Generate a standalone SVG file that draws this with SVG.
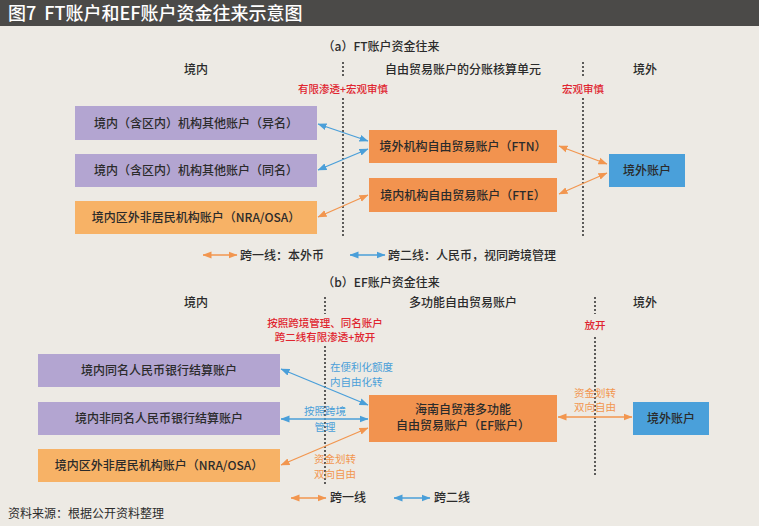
<svg xmlns="http://www.w3.org/2000/svg" width="759" height="526" viewBox="0 0 759 526">
<style>
text{font-family:"Noto Sans CJK SC","Liberation Sans",sans-serif;}
.t{font-size:12px;fill:#2b2b2b;text-anchor:middle;font-weight:500;}
.hd{font-size:12px;fill:#2b2b2b;text-anchor:middle;font-weight:500;}
.red{font-size:10.5px;fill:#e0252f;text-anchor:middle;font-weight:500;}
.bl{font-size:10.5px;fill:#4a9fd9;}
.or{font-size:10.5px;fill:#f2964f;text-anchor:middle;}
.leg{font-size:12px;fill:#2b2b2b;font-weight:500;}
.dash{stroke:#1e1e1e;stroke-width:1.4;stroke-dasharray:2 2;fill:none;}
.ab{stroke:#4a9fd9;stroke-width:1.3;fill:none;marker-start:url(#mb);marker-end:url(#mb);}
.ao{stroke:#f2964f;stroke-width:1.3;fill:none;marker-start:url(#mo);marker-end:url(#mo);}
.purple{fill:#b3a5d1;}
.lorange{fill:#f7b266;}
.orange{fill:#f2934f;}
.blue{fill:#4aa0da;}
</style>
<defs>
<marker id="mb" markerUnits="userSpaceOnUse" markerWidth="9" markerHeight="8" viewBox="0 0 9 8" refX="8.5" refY="4" orient="auto-start-reverse"><path d="M0,0.5 L9,4 L0,7.5 z" fill="#4a9fd9"/></marker>
<marker id="mo" markerUnits="userSpaceOnUse" markerWidth="9" markerHeight="8" viewBox="0 0 9 8" refX="8.5" refY="4" orient="auto-start-reverse"><path d="M0,0.5 L9,4 L0,7.5 z" fill="#f2964f"/></marker>
</defs>
<rect x="0" y="0" width="759" height="526" fill="#edeae4"/>
<rect x="0" y="0" width="759" height="26" fill="#4b4a48"/>
<text x="8" y="20" font-size="18" font-weight="500" fill="#ffffff">图7&#160;&#160;FT账户和EF账户资金往来示意图</text>

<!-- Part (a) headings -->
<text class="hd" x="381" y="51">（a）FT账户资金往来</text>
<text class="hd" x="196" y="74">境内</text>
<text class="hd" x="463" y="74">自由贸易账户的分账核算单元</text>
<text class="hd" x="645" y="74">境外</text>
<text class="red" x="343" y="93">有限渗透+宏观审慎</text>
<text class="red" x="583" y="93">宏观审慎</text>

<g id="dashes">
<line class="dash" x1="343" y1="62" x2="343" y2="78"/>
<line class="dash" x1="343" y1="98" x2="343" y2="237"/>
<line class="dash" x1="583" y1="62" x2="583" y2="78"/>
<line class="dash" x1="583" y1="98" x2="583" y2="237"/>
<line class="dash" x1="325" y1="297" x2="325" y2="314"/>
<line class="dash" x1="325" y1="346" x2="325" y2="485"/>
<line class="dash" x1="595" y1="297" x2="595" y2="314"/>
<line class="dash" x1="595" y1="337" x2="595" y2="475"/>
</g>

<g id="a_dom_other_diff"><rect class="purple" x="75" y="106" width="242" height="34"/><text class="t" x="196" y="127.5">境内（含区内）机构其他账户（异名）</text></g>
<g id="a_dom_other_same"><rect class="purple" x="75" y="154" width="242" height="33"/><text class="t" x="196" y="175">境内（含区内）机构其他账户（同名）</text></g>
<g id="a_nra"><rect class="lorange" x="75" y="201" width="242" height="33"/><text class="t" x="196" y="222">境内区外非居民机构账户（NRA/OSA）</text></g>
<g id="a_ftn"><rect class="orange" x="369" y="130" width="188" height="33"/><text class="t" x="463" y="151">境外机构自由贸易账户（FTN）</text></g>
<g id="a_fte"><rect class="orange" x="369" y="178" width="188" height="34"/><text class="t" x="463" y="199.5">境内机构自由贸易账户（FTE）</text></g>
<g id="a_offshore"><rect class="blue" x="609" y="154" width="76" height="33"/><text class="t" x="647" y="175">境外账户</text></g>

<!-- Part (b) headings -->
<text class="hd" x="381" y="287">（b）EF账户资金往来</text>
<text class="hd" x="196" y="307">境内</text>
<text class="hd" x="463" y="307">多功能自由贸易账户</text>
<text class="hd" x="645" y="307">境外</text>
<text class="red" x="325" y="327">按照跨境管理、同名账户</text>
<text class="red" x="325" y="341">跨二线有限渗透+放开</text>
<text class="red" x="595" y="329">放开</text>

<g id="b_same"><rect class="purple" x="38" y="354" width="242" height="33"/><text class="t" x="159" y="375">境内同名人民币银行结算账户</text></g>
<g id="b_diff"><rect class="purple" x="38" y="402" width="242" height="33"/><text class="t" x="159" y="423">境内非同名人民币银行结算账户</text></g>
<g id="b_nra"><rect class="lorange" x="38" y="449" width="242" height="33"/><text class="t" x="159" y="470">境内区外非居民机构账户（NRA/OSA）</text></g>
<g id="b_ef"><rect class="orange" x="369" y="395" width="188" height="47"/><text class="t" x="463" y="414">海南自贸港多功能</text><text class="t" x="463" y="430">自由贸易账户（EF账户）</text></g>
<g id="b_offshore"><rect class="blue" x="633" y="402" width="76" height="33"/><text class="t" x="671" y="423">境外账户</text></g>

<text class="bl" x="330" y="371">在便利化额度</text>
<text class="bl" x="330" y="385.5">内自由化转</text>
<text class="bl" x="325" y="415" text-anchor="middle">按照跨境</text>
<text class="bl" x="325" y="431" text-anchor="middle">管理</text>
<text class="or" x="335" y="463">资金划转</text>
<text class="or" x="335" y="477.5">双向自由</text>
<text class="or" x="595" y="397">资金划转</text>
<text class="or" x="595" y="411">双向自由</text>

<g id="connectors">
<line class="ab" x1="318" y1="124" x2="368" y2="141"/>
<line class="ab" x1="318" y1="170" x2="368" y2="149"/>
<line class="ao" x1="318" y1="217" x2="368" y2="195"/>
<line class="ao" x1="559" y1="146" x2="607" y2="164"/>
<line class="ao" x1="559" y1="194" x2="607" y2="173"/>
<line class="ab" x1="281" y1="369" x2="368" y2="405"/>
<line class="ab" x1="281" y1="419" x2="368" y2="419"/>
<line class="ao" x1="281" y1="465" x2="368" y2="428"/>
<line class="ao" x1="558" y1="417" x2="632" y2="417"/>
<line class="ao" x1="203" y1="255" x2="237" y2="255"/>
<line class="ab" x1="350" y1="255" x2="385" y2="255"/>
<line class="ao" x1="291" y1="498" x2="326" y2="498"/>
<line class="ab" x1="394" y1="498" x2="430" y2="498"/>
</g>

<text class="leg" x="240" y="259.5">跨一线：本外币</text>
<text class="leg" x="388" y="259.5">跨二线：人民币，视同跨境管理</text>
<text class="leg" x="330" y="502">跨一线</text>
<text class="leg" x="434" y="502">跨二线</text>

<text x="8" y="518" font-size="12" fill="#2b2b2b">资料来源：根据公开资料整理</text>
</svg>
